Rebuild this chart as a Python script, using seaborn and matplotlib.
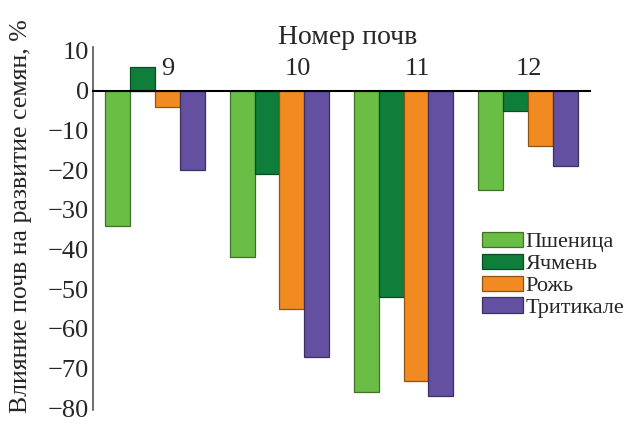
import pandas as pd
import matplotlib
matplotlib.use("Agg")
import matplotlib.pyplot as plt
import matplotlib.colors as mcolors
import seaborn as sns

soils = ["9", "10", "11", "12"]
crops = ["Пшеница", "Ячмень", "Рожь", "Тритикале"]
wheat = [-34, -42, -76, -25]
barley = [6, -21, -52, -5]
rye = [-4, -55, -73, -14]
triticale = [-20, -67, -77, -19]

colors = ["#6abd45", "#0f7e3b", "#f28a22", "#6450a0"]
label_shift = [0.10, 0.15, 0.11, 0.01]  # category labels sit right of group centre

rows = []
for crop, vals in zip(crops, [wheat, barley, rye, triticale]):
    for soil, v in zip(soils, vals):
        rows.append({"soil": soil, "crop": crop, "value": v})
df = pd.DataFrame(rows)

sns.set_style("white")
plt.rcParams["font.family"] = ["Liberation Serif", "DejaVu Serif"]

fig = plt.figure(figsize=(6.26, 4.32), dpi=100)
ax = fig.add_axes([93 / 626, 1 - 410.3 / 432, (590 - 93) / 626, (410.3 - 47) / 432])

sns.barplot(data=df, x="soil", y="value", hue="crop", order=soils, hue_order=crops,
            palette=colors, width=0.8, saturation=1, ax=ax, linewidth=0.9)

# darker outline for each bar
for p in ax.patches:
    fc = mcolors.to_rgb(p.get_facecolor())
    p.set_edgecolor(tuple(c * 0.6 for c in fc))

ax.set_xlim(-0.5, 3.5)
ax.set_ylim(-80.5, 11)
ax.set_yticks(range(-80, 11, 10))
ax.set_yticklabels([str(t).replace("-", "\u2212") for t in range(-80, 11, 10)])
ax.tick_params(axis="y", direction="in", length=6, width=1, labelsize=19, color="#555555", pad=3)

ax.spines["bottom"].set_position(("data", 0))
ax.spines["bottom"].set_color("black")
ax.spines["bottom"].set_linewidth(1.5)
ax.spines["left"].set_color("#555555")
ax.spines["left"].set_linewidth(1.2)
ax.spines["top"].set_visible(False)
ax.spines["right"].set_visible(False)

ax.set_xticks([0.5, 1.5, 2.5, 3.5])
ax.set_xticklabels([])
ax.tick_params(axis="x", direction="out", length=6, width=1, color="black")
ax.set_xlabel("")
ax.set_ylabel("")

for i, s in enumerate(soils):
    ax.text(i + label_shift[i], 2.6, s, fontsize=19, ha="center", va="bottom")

fig.text(348 / 626, 1 - 38 / 432, "Номер почв", fontsize=20, ha="center", va="center")
fig.text(21 / 626, 0.5, "Влияние почв на развитие семян, %", fontsize=18.5,
         rotation=90, ha="center", va="center")

handles, labels = ax.get_legend_handles_labels()
ax.legend(handles, labels, loc="upper left", bbox_to_anchor=(482 / 626, 1 - 232 / 432),
          bbox_transform=fig.transFigure, frameon=False, fontsize=16,
          handlelength=1.85, handleheight=0.68, handletextpad=0.12, labelspacing=0.06,
          borderaxespad=0, borderpad=0)

fig.savefig("out.png", dpi=100)
